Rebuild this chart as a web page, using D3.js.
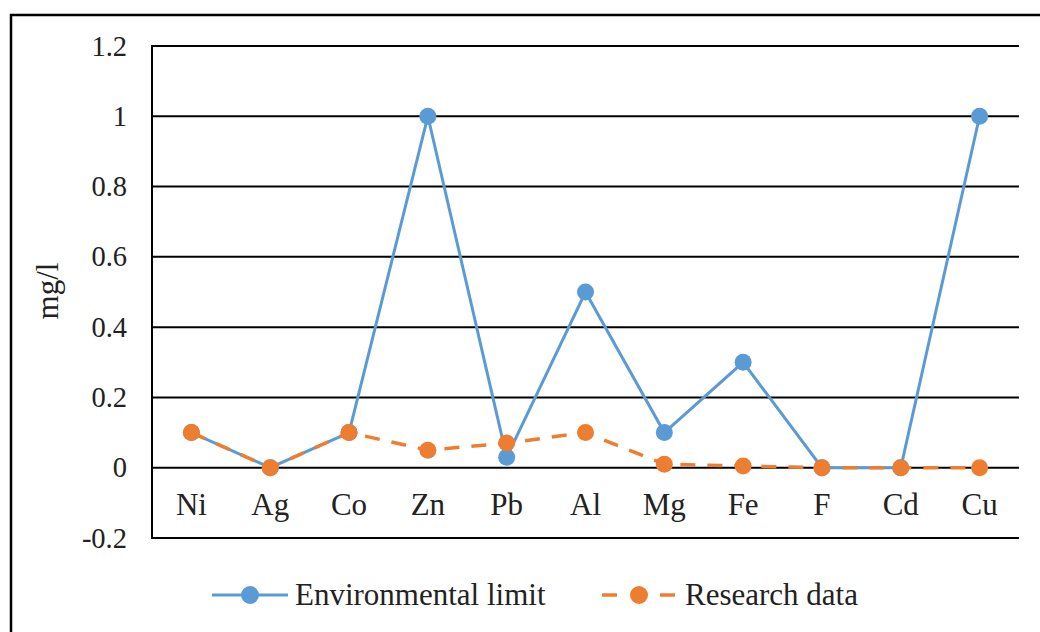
<!DOCTYPE html>
<html>
<head>
<meta charset="utf-8">
<script src="https://cdn.jsdelivr.net/npm/d3@7"></script>
<style>
  html, body { margin: 0; padding: 0; background: #fff; }
  svg { display: block; font-family: "Liberation Serif", "Times New Roman", serif; }
</style>
</head>
<body>
<svg id="chart" width="1040" height="632"></svg>
<script>
const categories = ["Ni", "Ag", "Co", "Zn", "Pb", "Al", "Mg", "Fe", "F", "Cd", "Cu"];
const environmentalLimit = [0.1, 0, 0.1, 1, 0.03, 0.5, 0.1, 0.3, 0, 0, 1];
const researchData = [0.1, 0, 0.1, 0.05, 0.07, 0.1, 0.01, 0.005, 0, 0, 0];
const yTicks = [-0.2, 0, 0.2, 0.4, 0.6, 0.8, 1, 1.2];
const yTickLabels = ["-0.2", "0", "0.2", "0.4", "0.6", "0.8", "1", "1.2"];
const seriesNames = ["Environmental limit", "Research data"];
const colors = ["#5B9BD5", "#ED7D31"];

const svg = d3.select("#chart");
const W = 1040, H = 632;
const plot = { left: 152, right: 1019, top: 46, bottom: 538 };

// outer frame
svg.append("rect")
  .attr("x", 11).attr("y", 15)
  .attr("width", W + 20).attr("height", H + 20)
  .attr("fill", "none").attr("stroke", "#000").attr("stroke-width", 2.5);

const x = d3.scalePoint().domain(categories).range([plot.left, plot.right]).padding(0.5);
const y = d3.scaleLinear().domain([-0.2, 1.2]).range([plot.bottom, plot.top]);

// gridlines
svg.append("g").selectAll("line").data(yTicks).join("line")
  .attr("x1", plot.left).attr("x2", plot.right)
  .attr("y1", d => y(d)).attr("y2", d => y(d))
  .attr("stroke", "#000").attr("stroke-width", 2);

// y axis line
svg.append("line")
  .attr("x1", plot.left).attr("x2", plot.left)
  .attr("y1", y(1.2) - 1).attr("y2", y(-0.2) + 1)
  .attr("stroke", "#000").attr("stroke-width", 2);

// y tick labels
const yAxis = d3.axisLeft(y).tickValues(yTicks).tickSize(0).tickPadding(25)
  .tickFormat((d, i) => yTickLabels[i]);
const gy = svg.append("g").attr("transform", `translate(${plot.left},0)`).call(yAxis);
gy.select(".domain").remove();
gy.selectAll("text")
  .attr("font-family", "Liberation Serif, Times New Roman, serif")
  .attr("font-size", 28.5).attr("fill", "#222");

// category labels
svg.append("g").selectAll("text").data(categories).join("text")
  .attr("x", d => x(d)).attr("y", 515)
  .attr("text-anchor", "middle")
  .attr("font-size", 31).attr("fill", "#222")
  .text(d => d);

// y title
svg.append("text")
  .attr("transform", "translate(58,291) rotate(-90)")
  .attr("text-anchor", "middle")
  .attr("font-size", 31).attr("fill", "#222")
  .text("mg/l");

const line = d3.line().x((d, i) => x(categories[i])).y(d => y(d));

const series = [environmentalLimit, researchData];
const dashes = [null, "15,12"];
series.forEach((vals, s) => {
  svg.append("path").datum(vals)
    .attr("d", line)
    .attr("fill", "none")
    .attr("stroke", colors[s])
    .attr("stroke-width", s === 0 ? 3 : 3.5)
    .attr("stroke-dasharray", dashes[s]);
  svg.append("g").selectAll("circle").data(vals).join("circle")
    .attr("cx", (d, i) => x(categories[i]))
    .attr("cy", d => y(d))
    .attr("r", 8.5)
    .attr("fill", colors[s]);
});

// legend
const ly = 595;
// Environmental limit
svg.append("line")
  .attr("x1", 212).attr("x2", 288).attr("y1", ly).attr("y2", ly)
  .attr("stroke", colors[0]).attr("stroke-width", 3);
svg.append("circle").attr("cx", 250).attr("cy", ly).attr("r", 9).attr("fill", colors[0]);
svg.append("text").attr("x", 295).attr("y", 605)
  .attr("font-size", 31).attr("fill", "#222").text(seriesNames[0]);
// Research data
[[602, 617], [660, 675]].forEach(seg => {
  svg.append("line")
    .attr("x1", seg[0]).attr("x2", seg[1]).attr("y1", ly).attr("y2", ly)
    .attr("stroke", colors[1]).attr("stroke-width", 3.5);
});
svg.append("circle").attr("cx", 639).attr("cy", ly).attr("r", 9).attr("fill", colors[1]);
svg.append("text").attr("x", 685).attr("y", 605)
  .attr("font-size", 31).attr("fill", "#222").text(seriesNames[1]);
</script>
</body>
</html>
